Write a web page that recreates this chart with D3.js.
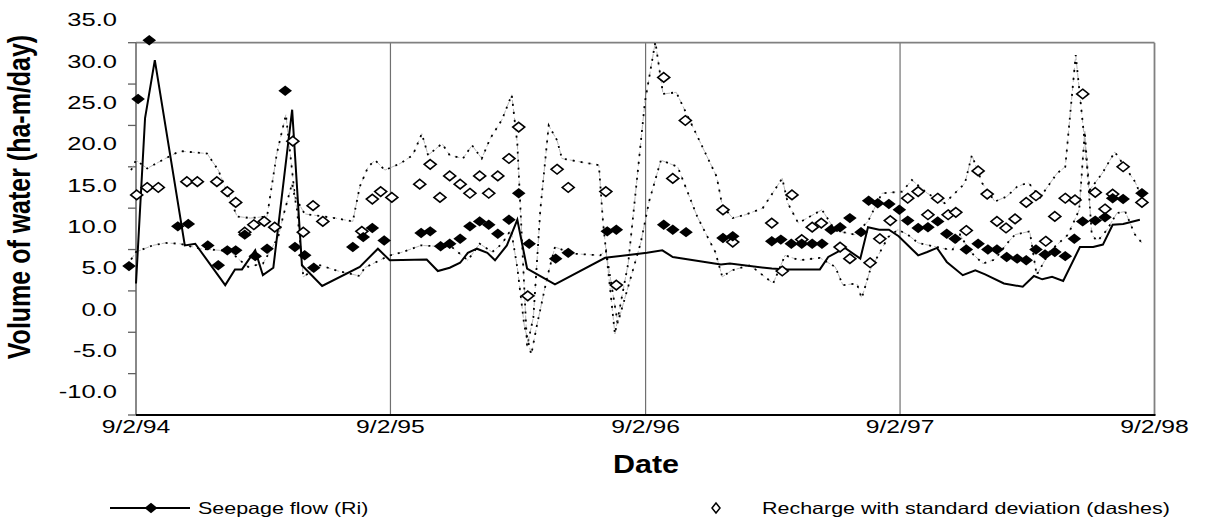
<!DOCTYPE html>
<html><head><meta charset="utf-8">
<script src="https://cdn.jsdelivr.net/npm/d3@7"></script>
<style>body{margin:0;background:#fff}svg{display:block}text{font-family:"Liberation Sans",Arial,sans-serif;fill:#000}</style>
</head><body><svg id="c" width="1205" height="525"></svg>
<script>
// ---- data ----
const seepageDates = ["1994-08-23","1994-09-05","1994-09-21","1994-11-01","1994-11-16","1994-12-14","1994-12-29",
"1995-01-11","1995-01-23","1995-02-05","1995-02-20","1995-03-09","1995-04-04","1995-04-18","1995-05-02","1995-05-15","1995-07-10","1995-07-25","1995-08-07","1995-08-24","1995-10-16","1995-10-29","1995-11-13","1995-11-26","1995-12-11","1995-12-25",
"1996-01-08","1996-01-21","1996-02-03","1996-02-19","1996-03-04","1996-03-19","1996-04-26","1996-05-14","1996-07-09","1996-07-22","1996-09-28","1996-10-11","1996-10-30","1996-12-22",
"1997-01-05","1997-03-02","1997-03-15","1997-03-30","1997-04-14","1997-04-29","1997-05-13","1997-05-26","1997-06-08","1997-06-22","1997-07-08","1997-07-19","1997-08-01","1997-08-17","1997-09-01","1997-09-13","1997-09-28","1997-10-12","1997-10-26","1997-11-08","1997-11-20","1997-12-06","1997-12-23",
"1998-01-06","1998-01-19","1998-02-02","1998-02-17","1998-03-02","1998-03-16","1998-03-29","1998-04-12","1998-04-27","1998-05-10","1998-05-22","1998-06-09","1998-06-23","1998-07-04","1998-07-19","1998-08-15"];
const seepageValues = [5.2,25.4,32.5,10.0,10.3,7.7,5.3,
7.1,7.1,9.0,6.4,7.3,26.4,7.5,6.5,5.0,7.5,8.7,9.8,8.3,9.2,9.4,7.6,7.9,8.5,10.0,
10.6,10.2,9.1,10.8,14.0,7.9,6.1,6.8,9.4,9.6,10.2,9.6,9.3,8.6,
8.8,8.2,8.4,7.9,7.9,7.9,7.9,9.6,9.9,11.0,9.3,13.1,12.8,12.7,12.0,10.7,9.8,9.9,10.6,9.1,8.5,7.2,7.9,
7.2,7.2,6.3,6.1,5.9,7.2,6.6,6.9,6.4,8.5,10.6,10.7,11.1,13.4,13.3,14.0];

const rechargeDates = ["1994-09-03","1994-09-18","1994-10-04","1994-11-14","1994-11-29","1994-12-27",
"1995-01-11","1995-01-23","1995-02-05","1995-02-18","1995-03-05","1995-03-20","1995-04-15","1995-04-30","1995-05-14","1995-05-28","1995-07-23","1995-08-07","1995-08-19","1995-09-04","1995-10-14","1995-10-29","1995-11-12","1995-11-26","1995-12-11","1995-12-25",
"1996-01-08","1996-01-21","1996-02-03","1996-02-19","1996-03-04","1996-03-17","1996-04-28","1996-05-14","1996-07-07","1996-07-22","1996-09-28","1996-10-11","1996-10-29","1996-12-22",
"1997-01-05","1997-03-02","1997-03-17","1997-03-31","1997-04-14","1997-04-29","1997-05-12","1997-06-08","1997-06-22","1997-07-21","1997-08-04","1997-08-19","1997-09-13","1997-09-28","1997-10-12","1997-10-26","1997-11-10","1997-11-21","1997-12-06","1997-12-23",
"1998-01-05","1998-01-19","1998-02-01","1998-02-14","1998-03-02","1998-03-16","1998-03-30","1998-04-12","1998-04-27","1998-05-11","1998-05-22","1998-06-09","1998-06-23","1998-07-04","1998-07-19","1998-08-15"];
const rechargeValues = [13.8,14.7,14.7,15.4,15.4,15.4,
14.2,12.9,9.3,10.2,10.6,9.9,20.3,9.3,12.5,10.6,9.4,13.3,14.2,13.5,15.1,17.5,13.5,16.1,15.1,14.0,
16.1,14.0,16.1,18.2,22.0,1.6,16.9,14.7,14.2,2.9,28.0,15.8,22.8,12.0,
8.1,10.4,4.6,13.8,8.4,9.9,10.4,7.5,6.1,5.6,8.5,10.7,13.4,14.2,11.4,13.4,11.4,11.7,9.5,16.7,
13.9,10.6,9.8,10.9,12.9,13.7,8.2,11.2,13.4,13.2,26.0,14.1,12.1,13.9,17.2,12.9];

const flowLineDates = ["1994-09-02","1994-09-15","1994-09-29","1994-11-11","1994-11-26",
"1995-01-08","1995-01-22","1995-02-01","1995-02-20","1995-03-03","1995-03-18","1995-04-14","1995-04-28","1995-05-27","1995-07-20","1995-08-15","1995-09-01","1995-10-24","1995-11-09","1995-11-26","1995-12-11","1995-12-22",
"1996-01-04","1996-01-19","1996-01-30","1996-02-16","1996-03-02","1996-03-16","1996-04-25","1996-07-06","1996-09-04","1996-09-26","1996-10-11","1996-12-19",
"1997-01-01","1997-03-02","1997-03-24","1997-05-10","1997-05-22","1997-06-15","1997-07-07","1997-07-18","1997-08-03","1997-08-17","1997-08-31","1997-09-28","1997-10-11","1997-10-25","1997-11-08","1997-12-01","1997-12-19",
"1998-01-02","1998-01-29","1998-02-25","1998-03-13","1998-03-25","1998-04-08","1998-04-24","1998-05-18","1998-06-06","1998-06-20","1998-07-04","1998-07-19","1998-08-12"];
const flowLineValues = [3.1,23.1,30.1,7.7,7.9,
2.9,4.8,4.8,7.1,4.1,5.0,24.1,5.3,2.8,5.1,7.3,5.9,6.0,4.6,5.0,5.6,6.8,
7.3,6.8,5.9,7.7,10.8,4.9,3.0,6.2,6.8,7.1,6.3,5.4,
5.5,4.9,4.8,4.8,6.3,7.4,6.1,9.9,9.6,9.6,8.8,6.5,6.9,7.4,5.7,4.1,4.7,
4.2,3.1,2.7,4.0,3.6,3.9,3.4,7.5,7.5,7.8,10.2,10.3,10.8];

const upperDates = ["1994-08-26","1994-09-02","1994-09-18","1994-10-14","1994-11-04","1994-12-13","1994-12-29",
"1995-01-25","1995-02-13","1995-03-09","1995-03-23","1995-04-05","1995-04-18","1995-05-02","1995-06-15","1995-07-10","1995-07-20","1995-08-01","1995-08-11","1995-08-25","1995-09-16","1995-10-04","1995-10-17","1995-10-26","1995-11-15","1995-11-26","1995-12-15","1995-12-28",
"1996-01-11","1996-01-23","1996-02-09","1996-02-23","1996-03-02","1996-03-16","1996-03-25","1996-04-04","1996-04-16","1996-04-28","1996-05-05","1996-05-31","1996-06-27","1996-07-03","1996-07-20","1996-08-08","1996-08-21","1996-09-01","1996-09-16","1996-09-27","1996-10-16","1996-12-13","1996-12-21",
"1997-01-05","1997-01-23","1997-02-17","1997-03-17","1997-03-25","1997-04-09","1997-05-13","1997-06-01","1997-06-29","1997-07-18","1997-08-07","1997-09-05","1997-09-19","1997-10-11","1997-11-05","1997-12-04","1997-12-14","1997-12-29",
"1998-01-16","1998-02-02","1998-02-17","1998-03-05","1998-03-22","1998-04-15","1998-04-27","1998-05-12","1998-06-01","1998-06-19","1998-07-07","1998-08-05","1998-08-15"];
const upperValues = [16.8,18.0,17.0,18.2,19.1,18.8,16.8,
11.2,11.0,11.2,18.8,23.5,13.6,11.5,11.0,10.6,14.8,17.2,18.0,16.8,17.6,18.6,21.2,18.6,20.0,18.6,18.2,19.8,
18.2,20.6,22.9,25.9,20.0,-4.5,-1.0,12.0,22.2,20.4,18.2,17.8,17.4,10.4,-3.0,5.5,16.0,25.0,32.3,26.0,26.2,16.0,12.5,
11.0,11.4,12.2,15.8,12.8,10.4,12.0,9.5,9.0,10.6,14.0,14.2,15.6,14.0,12.8,15.2,18.6,15.2,
13.0,13.6,14.8,15.3,13.5,16.4,17.2,30.7,14.4,16.4,19.0,15.4,13.5];

const lowerDates = ["1994-08-26","1994-09-02","1994-09-26","1994-10-14","1994-11-04","1994-12-03",
"1995-01-15","1995-01-29","1995-02-10","1995-03-03","1995-03-25","1995-04-01","1995-04-14","1995-04-21","1995-04-30","1995-05-24","1995-06-19","1995-07-20","1995-07-27","1995-09-01","1995-09-16","1995-10-03","1995-10-16","1995-11-29","1995-12-22",
"1996-01-08","1996-01-26","1996-02-09","1996-02-22","1996-03-02","1996-03-12","1996-03-22","1996-03-30","1996-04-14","1996-04-25","1996-05-21","1996-06-29","1996-07-07","1996-07-24","1996-08-26","1996-09-07","1996-09-24","1996-10-18","1996-11-15","1996-11-30","1996-12-11","1996-12-21",
"1997-01-04","1997-01-30","1997-03-04","1997-03-21","1997-04-11","1997-05-10","1997-06-01","1997-06-12","1997-07-02","1997-07-09","1997-07-21","1997-08-16","1997-08-30","1997-09-13","1997-09-28","1997-10-25","1997-11-16","1997-11-27","1997-12-11","1997-12-30",
"1998-01-16","1998-02-02","1998-02-14","1998-03-07","1998-03-17","1998-04-05","1998-05-01","1998-05-17","1998-05-25","1998-06-04","1998-06-12","1998-06-26","1998-07-10","1998-07-22","1998-08-05","1998-08-15"];
const lowerValues = [6.0,6.9,7.7,8.0,7.9,7.3,
7.0,5.9,5.1,5.5,8.7,11.2,15.2,12.0,3.9,5.3,4.6,4.0,5.0,6.5,6.8,7.3,7.7,7.5,5.9,
7.9,6.9,7.9,9.6,5.0,-2.0,-5.5,-2.0,3.9,7.5,6.7,6.5,7.1,-1.7,8.0,13.0,18.0,17.2,11.2,8.7,6.9,3.9,
4.7,5.3,3.1,6.5,5.9,6.2,5.1,2.9,3.1,1.3,4.7,8.7,9.6,9.0,8.0,7.5,7.1,9.0,7.0,5.5,
6.0,7.9,9.0,9.4,4.1,7.0,9.0,12.0,21.5,9.0,8.2,9.6,11.6,11.8,9.0,8.0];

const xTickDates = ["1994-09-02","1995-09-02","1996-09-02","1997-09-02","1998-09-02"];
const xTickLabels = ["9/2/94","9/2/95","9/2/96","9/2/97","9/2/98"];
const yLabelValues = [35,30,25,20,15,10,5,0,-5,-10];
const yLabelTexts = ["35.0","30.0","25.0","20.0","15.0","10.0","5.0","0.0","-5.0","-10.0"];
const yDomain = [-12.8, 32.2];
const legendLabels = ["Seepage flow (Ri)","Recharge with standard deviation (dashes)"];

// ---- drawing ----
const parse = d3.timeParse("%Y-%m-%d");
const svg = d3.select("#c");
const L = 136, R = 1154.5, T = 42.7, B = 415;
const SX = 1.3;
const x = d3.scaleTime().domain([parse(xTickDates[0]), parse(xTickDates[xTickDates.length-1])]).range([L, R]);
const y = d3.scaleLinear().domain(yDomain).range([B, T]);

function stretch(sel, k){
  sel.each(function(){ const w=this.getComputedTextLength(); d3.select(this).attr("textLength", w*k).attr("lengthAdjust","spacingAndGlyphs"); });
}
const zip = (ds, vs) => ds.map((d,i)=>({date:parse(d), v:vs[i]}));

// year grid lines
svg.append("g").selectAll("line").data(xTickDates.slice(1,-1)).join("line")
  .attr("x1", d=>x(parse(d))).attr("x2", d=>x(parse(d)))
  .attr("y1", T).attr("y2", B).attr("stroke","#707070").attr("stroke-width",1.2);

// frame
svg.append("line").attr("x1",L).attr("x2",R).attr("y1",T).attr("y2",T).attr("stroke","#808080").attr("stroke-width",1.8);
svg.append("line").attr("x1",R).attr("x2",R).attr("y1",T).attr("y2",B).attr("stroke","#808080").attr("stroke-width",1.8);
svg.append("line").attr("x1",L).attr("x2",L).attr("y1",T).attr("y2",B).attr("stroke","#606060").attr("stroke-width",1.5);

// y ticks (offset grid as in the source)
const yTicks = d3.range(0,10).map(k=>yDomain[1]-5*k);
svg.append("g").selectAll("line").data(yTicks).join("line")
  .attr("x1",L-8).attr("x2",L).attr("y1",d=>y(d)).attr("y2",d=>y(d)).attr("stroke","#606060").attr("stroke-width",1.3);

// y labels
const yl = svg.append("g").selectAll("text").data(yLabelValues).join("text")
  .attr("x",117).attr("y",d=>y(d)).attr("dy","0.36em").attr("text-anchor","end")
  .attr("font-size",18.5).text((d,i)=>yLabelTexts[i]);
stretch(yl, 1.38);

// bottom axis
svg.append("line").attr("x1",L).attr("x2",R+1).attr("y1",B).attr("y2",B).attr("stroke","#000").attr("stroke-width",2.2);

// x labels
const xl = svg.append("g").selectAll("text").data(xTickDates).join("text")
  .attr("x",d=>x(parse(d))).attr("y",433).attr("text-anchor","middle")
  .attr("font-size",19).text((d,i)=>xTickLabels[i]);
stretch(xl, SX);

// titles
const dt = svg.append("text").attr("x",646).attr("y",473).attr("text-anchor","middle")
  .attr("font-size",25).attr("font-weight","bold").text("Date");
stretch(dt, 1.22);
svg.append("text").attr("transform","translate(30,197) scale(1.25,1) rotate(-90)")
  .attr("text-anchor","middle").attr("font-size",25).attr("font-weight","bold")
  .text("Volume of water (ha-m/day)");

// dashed std-dev lines: faint grey dashes under black dots
const line = d3.line().x(d=>x(d.date)).y(d=>y(d.v));
[zip(upperDates,upperValues), zip(lowerDates,lowerValues)].forEach(s=>{
  svg.append("path").datum(s).attr("d",line).attr("fill","none")
    .attr("stroke","#b0b0b0").attr("stroke-width",0.9).attr("stroke-dasharray","5,4");
  svg.append("path").datum(s).attr("d",line).attr("fill","none")
    .attr("stroke","#000").attr("stroke-width",1.8).attr("stroke-dasharray","2,6");
});

// solid seepage line
svg.append("path").datum(zip(flowLineDates,flowLineValues)).attr("d",line)
  .attr("fill","none").attr("stroke","#000").attr("stroke-width",2);

const diamond = (hw,hh)=>`M0,${-hh}L${hw},0L0,${hh}L${-hw},0Z`;
// hollow recharge markers
svg.append("g").selectAll("path").data(zip(rechargeDates,rechargeValues)).join("path")
  .attr("transform",d=>`translate(${x(d.date)},${y(d.v)})`).attr("d",diamond(6,4.8))
  .attr("fill","#fff").attr("stroke","#000").attr("stroke-width",1.6);
// filled seepage markers
svg.append("g").selectAll("path").data(zip(seepageDates,seepageValues)).join("path")
  .attr("transform",d=>`translate(${x(d.date)},${y(d.v)})`).attr("d",diamond(6.8,5.2))
  .attr("fill","#000");

// legend
const lg = svg.append("g");
lg.append("line").attr("x1",110).attr("x2",190).attr("y1",508).attr("y2",508).attr("stroke","#000").attr("stroke-width",2);
lg.append("path").attr("transform","translate(151,508)").attr("d",diamond(6.5,5.2)).attr("fill","#000");
const t1 = lg.append("text").attr("x",198).attr("y",514).attr("font-size",16.5).text(legendLabels[0]);
stretch(t1, SX);
lg.append("path").attr("transform","translate(716,508)").attr("d",diamond(4,5)).attr("fill","#fff").attr("stroke","#000").attr("stroke-width",1.5);
const t2 = lg.append("text").attr("x",762).attr("y",514).attr("font-size",16.5).text(legendLabels[1]);
stretch(t2, SX);
</script></body></html>
